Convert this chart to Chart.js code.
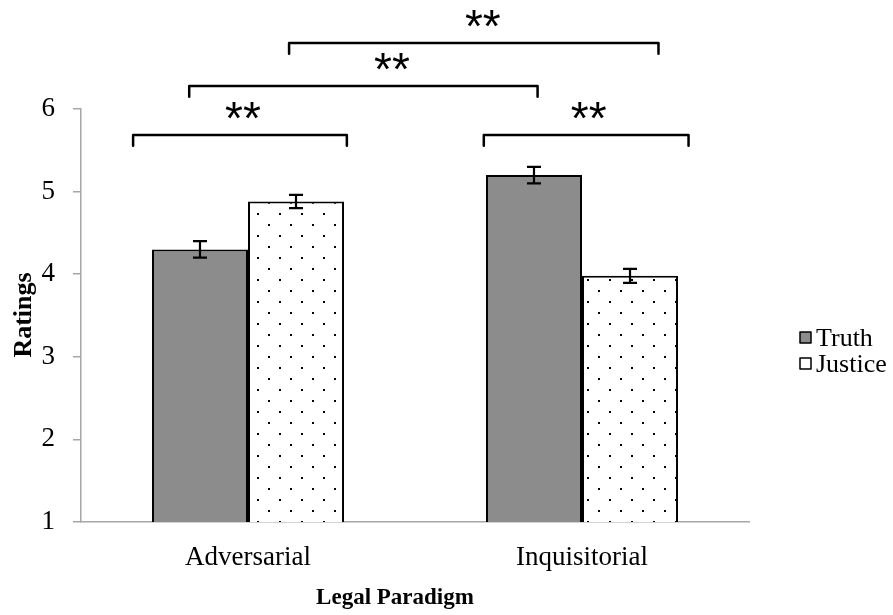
<!DOCTYPE html>
<html>
<head>
<meta charset="utf-8">
<script src="https://cdn.jsdelivr.net/npm/chart.js@4/dist/chart.umd.min.js"></script>
<style>
html, body { margin: 0; padding: 0; background: #fff; }
#wrap { width: 893px; height: 615px; }
</style>
</head>
<body>
<div id="wrap"><canvas id="chart"></canvas></div>
<script>
const categories = ['Adversarial', 'Inquisitorial'];
const seriesNames = ['Truth', 'Justice'];
const truthValues = [4.30, 5.20];
const justiceValues = [4.88, 3.98];
const truthErrors = [0.10, 0.10];
const justiceErrors = [0.08, 0.085];
const yMin = 1, yMax = 6;
// significance brackets: x in category units, y in rating units
const bracketFrom = [-0.344, -0.176, 0.123, 0.706];
const bracketTo = [0.296, 0.867, 1.229, 1.319];
const bracketLevel = [5.685, 6.278, 6.799, 5.685];
const starX = [-0.015, 0.431, 0.703, 1.020];
const starLabels = ['**', '**', '**', '**'];

const serif = "'Liberation Serif', 'Times New Roman', serif";
const gray = '#8c8c8c';
const axisGray = '#a6a6a6';

const dotPattern = (() => {
    const c = document.createElement('canvas');
    c.width = 22; c.height = 22;
    const g = c.getContext('2d');
    g.fillStyle = '#fff';
    g.fillRect(0, 0, 22, 22);
    g.fillStyle = '#000';
    g.fillRect(4, 4, 2, 2);
    g.fillRect(15, 15, 2, 2);
    return g.createPattern(c, 'repeat');
})();

const extras = {
    id: 'extras',
    afterDatasetsDraw(chart) {
        const ctx = chart.ctx;
        const x = chart.scales.x, y = chart.scales.y;
        const errs = [truthErrors, justiceErrors];

        // error bars
        ctx.save();
        ctx.strokeStyle = '#000';
        ctx.lineWidth = 2.2;
        chart.data.datasets.forEach((ds, i) => {
            chart.getDatasetMeta(i).data.forEach((bar, j) => {
                const v = ds.data[j], e = errs[i][j];
                const top = y.getPixelForValue(v + e);
                const bot = y.getPixelForValue(v - e);
                ctx.beginPath();
                ctx.moveTo(bar.x, top); ctx.lineTo(bar.x, bot);
                ctx.moveTo(bar.x - 7, top); ctx.lineTo(bar.x + 7, top);
                ctx.moveTo(bar.x - 7, bot); ctx.lineTo(bar.x + 7, bot);
                ctx.stroke();
            });
        });

        // brackets and stars
        const x0 = x.getPixelForValue(0);
        const unit = x.getPixelForValue(1) - x0;
        const drop = y.getPixelForValue(yMin) - y.getPixelForValue(yMin + 0.13);
        ctx.lineWidth = 2.5;
        ctx.lineJoin = 'round';
        ctx.lineCap = 'round';
        bracketFrom.forEach((f, i) => {
            const xa = x0 + f * unit, xb = x0 + bracketTo[i] * unit;
            const yb = y.getPixelForValue(bracketLevel[i]);
            ctx.beginPath();
            ctx.moveTo(xa, yb + drop);
            ctx.lineTo(xa, yb);
            ctx.lineTo(xb, yb);
            ctx.lineTo(xb, yb + drop);
            ctx.stroke();
            ctx.fillStyle = '#000';
            ctx.font = "46px 'Liberation Sans', Arial, sans-serif";
            ctx.textAlign = 'center';
            ctx.textBaseline = 'middle';
            ctx.fillText(starLabels[i], x0 + starX[i] * unit, yb - 14);
        });

        // axis titles
        ctx.fillStyle = '#000';
        ctx.font = 'bold 23px ' + serif;
        ctx.textAlign = 'center';
        ctx.textBaseline = 'middle';
        ctx.fillText('Legal Paradigm', 395, 598);
        ctx.save();
        ctx.translate(24, 315);
        ctx.rotate(-Math.PI / 2);
        ctx.font = 'bold 26px ' + serif;
        ctx.fillText('Ratings', 0, 0);
        ctx.restore();

        // legend
        const fills = [gray, '#fff'];
        ctx.font = '26px ' + serif;
        ctx.textAlign = 'left';
        seriesNames.forEach((name, i) => {
            const cy = 338 + i * 26;
            ctx.fillStyle = fills[i];
            ctx.fillRect(800, cy - 6, 11, 11);
            ctx.lineWidth = 1.5;
            ctx.strokeStyle = '#000';
            ctx.strokeRect(800, cy - 6, 11, 11);
            ctx.fillStyle = '#000';
            ctx.fillText(name, 816, cy + 1);
        });
        ctx.restore();
    }
};

new Chart(document.getElementById('chart'), {
    type: 'bar',
    data: {
        labels: categories,
        datasets: [{
            label: seriesNames[0],
            data: truthValues,
            backgroundColor: gray,
            borderColor: '#000',
            borderWidth: 2
        }, {
            label: seriesNames[1],
            data: justiceValues,
            backgroundColor: dotPattern,
            borderColor: '#000',
            borderWidth: 2
        }]
    },
    options: {
        responsive: true,
        maintainAspectRatio: false,
        animation: false,
        layout: { padding: { top: 109, right: 144, left: 0, bottom: 0 } },
        plugins: { legend: { display: false }, tooltip: { enabled: false } },
        datasets: { bar: { categoryPercentage: 0.575, barPercentage: 1 } },
        scales: {
            x: {
                grid: { display: false, drawTicks: false },
                border: { color: axisGray, width: 1.5 },
                ticks: { color: '#000', font: { size: 27, family: serif }, padding: 20 },
                afterFit: s => { s.height = 93; }
            },
            y: {
                min: yMin,
                max: yMax,
                grid: { drawOnChartArea: false, tickLength: 8, color: axisGray, lineWidth: 1.5 },
                border: { color: axisGray, width: 1.5 },
                ticks: { stepSize: 1, color: '#000', font: { size: 27, family: serif }, padding: 18 },
                afterFit: s => { s.width = 81; }
            }
        }
    },
    plugins: [extras]
});
</script>
</body>
</html>
